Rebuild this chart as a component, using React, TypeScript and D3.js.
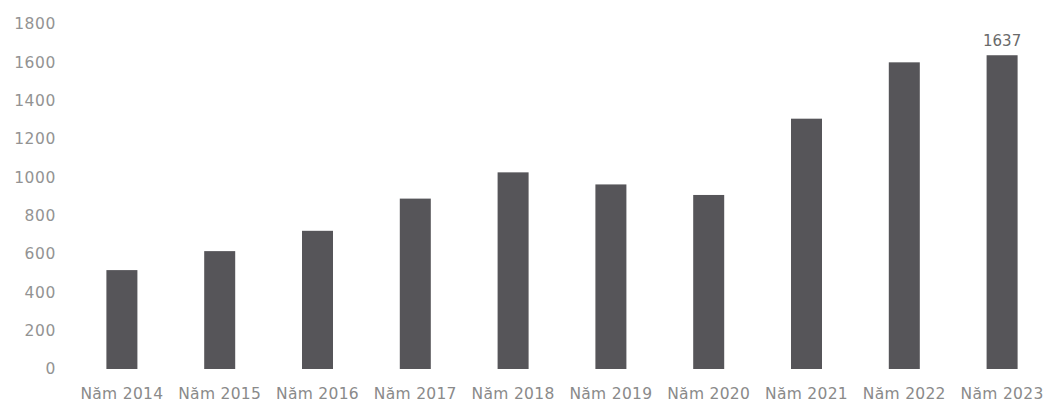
import { useEffect, useRef } from 'react';
import * as d3 from 'd3';

// data
const years = ['Năm 2014', 'Năm 2015', 'Năm 2016', 'Năm 2017', 'Năm 2018', 'Năm 2019', 'Năm 2020', 'Năm 2021', 'Năm 2022', 'Năm 2023'];
const values = [516, 615, 721, 889, 1026, 963, 908, 1306, 1600, 1637];
const yTicks = [0, 200, 400, 600, 800, 1000, 1200, 1400, 1600, 1800];
const labelled = ['Năm 2023'];

const width = 1050;
const height = 412;

const BarChart = () => {
  const ref = useRef<SVGSVGElement | null>(null);

  useEffect(() => {
    const svg = d3.select(ref.current);
    svg.selectAll('*').remove();

    const font = '"DejaVu Sans", sans-serif';

    const x = d3
      .scaleBand<string>()
      .domain(years)
      .range([73, 1051])
      .paddingInner(0.683)
      .paddingOuter(0.3415);

    const y = d3.scaleLinear().domain([0, 1800]).range([369, 24]);

    // y axis, labels only
    const yAxis = svg
      .append('g')
      .attr('transform', 'translate(56,0)')
      .call(
        d3.axisLeft(y).tickValues(yTicks).tickFormat(d3.format('d')).tickSize(0).tickPadding(0)
      );
    yAxis.select('.domain').remove();
    yAxis
      .selectAll('text')
      .attr('fill', '#939393')
      .attr('font-family', font)
      .attr('font-size', 15.5)
      .attr('letter-spacing', 0.6);

    // x axis, labels only
    const xAxis = svg
      .append('g')
      .attr('transform', 'translate(0,388)')
      .call(d3.axisBottom(x).tickSize(0).tickPadding(0));
    xAxis.select('.domain').remove();
    xAxis
      .selectAll('text')
      .attr('fill', '#8a8a8a')
      .attr('font-family', font)
      .attr('font-size', 15.5)
      .attr('letter-spacing', 0.3);

    const data = years.map((k, i) => ({ k, v: values[i] }));

    svg
      .append('g')
      .selectAll('rect')
      .data(data)
      .join('rect')
      .attr('x', d => x(d.k)!)
      .attr('width', x.bandwidth())
      .attr('y', d => y(d.v))
      .attr('height', d => y(0) - y(d.v))
      .attr('fill', '#565559');

    svg
      .append('g')
      .selectAll('text')
      .data(data.filter(d => labelled.includes(d.k)))
      .join('text')
      .attr('x', d => x(d.k)! + x.bandwidth() / 2)
      .attr('y', d => y(d.v) - 9)
      .attr('text-anchor', 'middle')
      .attr('fill', '#6a6a6a')
      .attr('font-family', font)
      .attr('font-size', 15)
      .text(d => d.v);
  }, []);

  return (
    <svg
      ref={ref}
      width={width}
      height={height}
      style={{ position: 'absolute', left: 0, top: 0, background: '#fff' }}
    ></svg>
  );
};

export default function App() {
  return <BarChart />;
}
